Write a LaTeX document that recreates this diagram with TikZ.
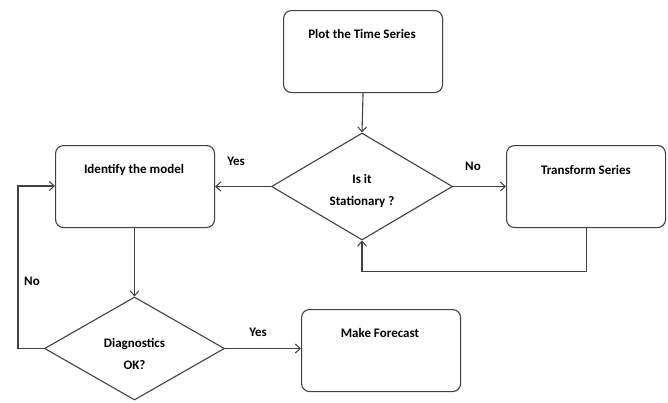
\documentclass[tikz,border=0pt]{standalone}
\usepackage{fontspec}
\setmainfont{Carlito}
\usetikzlibrary{shapes.geometric,arrows.meta}
\begin{document}
\begin{tikzpicture}[x=1pt,y=-1pt,
  line width=1.1pt, draw=black!75,
  box/.style={draw=black!75, rounded corners=8pt, minimum width=159pt, minimum height=82pt, inner sep=0pt, anchor=north west},
  dia/.style={draw=black!75, diamond, inner sep=0pt},
  lbl/.style={font=\bfseries\fontsize{13}{15}\selectfont, inner sep=0pt},
  arr/.style={-{Straight Barb[length=5pt,width=9pt,line width=1pt]}, draw=black!75}
]
\useasboundingbox (0,0) rectangle (668,402);
% boxes
\node[box] (plot) at (283,10) {};
\node[box] (ident) at (55,145) {};
\node[box] (trans) at (506,145) {};
\node[box] (fore) at (301,309) {};
\node[lbl] (tplot) at (362,34) {Plot the Time Series};
\node[lbl] (tident) at (134,170) {Identify the model};
\node[lbl] (ttrans) at (586,170) {Transform Series};
\node[lbl] (tfore) at (380,333) {Make Forecast};
% diamonds
\node[dia, minimum width=181pt, minimum height=107pt] (stat) at (362,186.5) {};
\node[lbl, align=center] (tstat) at (362,190.5) {Is it\\[7pt]Stationary ?};
\node[dia, minimum width=180pt, minimum height=103pt] (diag) at (134.5,348.5) {};
\node[lbl, align=center] (tdiag) at (134.5,354) {Diagnostics\\[7pt]OK?};
% connectors
\draw[arr] (plot.south) -- (stat.north);
\draw[arr] (stat.west) -- (stat.west -| ident.east);
\draw[arr] (stat.east) -- (stat.east -| trans.west);
\draw[arr] (trans.south) |- ++(0,43) coordinate (c1) -| (stat.south);
\draw[arr] (ident.south -| diag.north) -- (diag.north);
\draw[arr] (diag.east) -- (diag.east -| fore.west);
\coordinate (c2) at (18,186);
\draw[arr] (diag.west) -| (c2) -- (c2 -| ident.west);
% labels
\node[lbl] (yes1) at (236,161) {Yes};
\node[lbl] (no1) at (473,166) {No};
\node[lbl] (no2) at (32,281) {No};
\node[lbl] (yes2) at (258,332) {Yes};
\end{tikzpicture}
\end{document}
